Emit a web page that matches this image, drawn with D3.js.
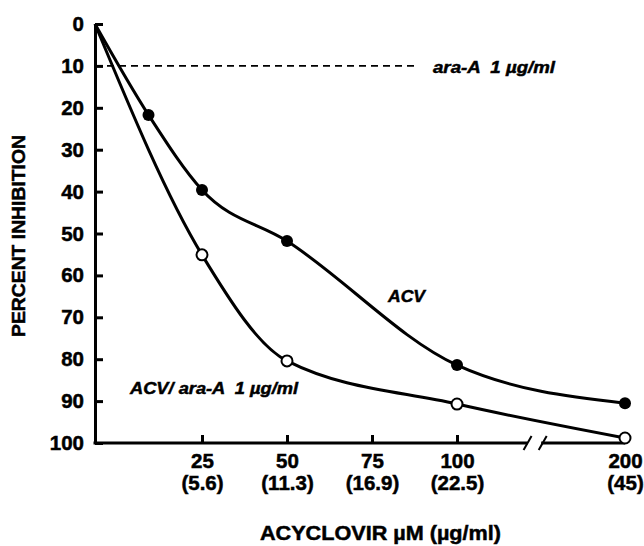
<!DOCTYPE html>
<html>
<head>
<meta charset="utf-8">
<script src="https://cdn.jsdelivr.net/npm/d3@7"></script>
<style>
  body { margin: 0; background: #fff; }
  text { font-family: "Liberation Sans", Arial, sans-serif; font-weight: bold; fill: #000;
         stroke: #000; stroke-width: 0.5px; }
  .lbl { font-style: italic; font-size: 17px; white-space: pre; }
</style>
</head>
<body>
<div id="chart"></div>
<script>
// Chart size
var width  = 644;
var height = 546;

// Data (concentration in uM, percent inhibition)
var acvConc    = [0, 12.5, 25, 50, 100, 200];
var acvInhib   = [0, 21.7, 39.6, 51.8, 81.4, 90.5];
var comboConc  = [0, 25, 50, 100, 200];
var comboInhib = [0, 55.1, 80.4, 90.7, 98.8];

// ara-A alone reference level
var araInhib = 10;
var araSpan  = [0, 88];

var yTicks   = [0, 10, 20, 30, 40, 50, 60, 70, 80, 90, 100];
var xTicks   = [25, 50, 75, 100, 200];
var xTicksMg = ["(5.6)", "(11.3)", "(16.9)", "(22.5)", "(45)"];
var axisBreak = [142, 151];

// Scales: x axis has a break between 100 and 200
var x = d3.scaleLinear()
    .domain([0, 25, 100, 200])
    .range([95, 202, 457, 625]);

var y = d3.scaleLinear()
    .domain([0, 100])
    .range([24, 443]);

var svg = d3.select("#chart").append("svg")
    .attr("width", width)
    .attr("height", height);

// Y axis, ticks pointing inward
var yAxis = d3.axisLeft(y)
    .tickValues(yTicks)
    .tickSizeInner(-8)
    .tickSizeOuter(0)
    .tickPadding(11);

var gy = svg.append("g")
    .attr("transform", "translate(" + x(0) + ",0)")
    .call(yAxis);
gy.select(".domain").attr("stroke-width", 3).attr("stroke", "#000");
gy.selectAll(".tick line").attr("stroke-width", 3).attr("stroke", "#000");
gy.selectAll(".tick text").attr("font-size", 20.5).attr("font-family", null);

// X axis, two line labels
var xAxis = d3.axisBottom(x)
    .tickValues(xTicks)
    .tickSizeInner(-8)
    .tickSizeOuter(0)
    .tickPadding(10)
    .tickFormat(d => d);

var gx = svg.append("g")
    .attr("transform", "translate(0," + y(100) + ")")
    .call(xAxis);
gx.select(".domain").remove();
gx.selectAll(".tick line").attr("stroke-width", 3).attr("stroke", "#000");
gx.selectAll(".tick text")
    .attr("font-size", 20.5)
    .attr("font-family", null)
    .each(function(d, i) {
        d3.select(this).append("tspan")
            .attr("x", 0)
            .attr("dy", "1.1em")
            .text(xTicksMg[i]);
    });

// Broken axis line
var segs = [[0, axisBreak[0]], [axisBreak[1], 200]];
gx.selectAll("line.seg")
    .data(segs)
    .enter()
    .append("line")
    .attr("class", "seg")
    .attr("x1", d => x(d[0]) - 1.5)
    .attr("x2", d => x(d[1]))
    .attr("y1", 0)
    .attr("y2", 0)
    .attr("stroke", "#000")
    .attr("stroke-width", 3);

gx.selectAll("line.slash")
    .data(axisBreak)
    .enter()
    .append("line")
    .attr("class", "slash")
    .attr("x1", d => x(d) - 4)
    .attr("x2", d => x(d) + 4)
    .attr("y1", 7)
    .attr("y2", -7)
    .attr("stroke", "#000")
    .attr("stroke-width", 2);

// Axis titles
svg.append("text")
    .attr("transform", "translate(25," + 236 + ")rotate(-90)")
    .attr("text-anchor", "middle")
    .attr("font-size", 19)
    .attr("textLength", 202)
    .attr("lengthAdjust", "spacingAndGlyphs")
    .text("PERCENT INHIBITION");

svg.append("text")
    .attr("x", 260)
    .attr("y", 540)
    .attr("font-size", 21)
    .attr("textLength", 241)
    .attr("lengthAdjust", "spacingAndGlyphs")
    .text("ACYCLOVIR \u00B5M (\u00B5g/ml)");

// ara-A reference dashed line
svg.append("line")
    .attr("x1", x(araSpan[0]))
    .attr("x2", x(araSpan[1]))
    .attr("y1", y(araInhib))
    .attr("y2", y(araInhib))
    .attr("stroke", "#000")
    .attr("stroke-width", 1.8)
    .attr("stroke-dasharray", "7,5");

// Curves
var line = d3.line()
    .x(d => x(d[0]))
    .y(d => y(d[1]))
    .curve(d3.curveMonotoneX);

var acv   = d3.zip(acvConc, acvInhib);
var combo = d3.zip(comboConc, comboInhib);

[acv, combo].forEach(function(s) {
    svg.append("path")
        .datum(s)
        .attr("d", line)
        .attr("fill", "none")
        .attr("stroke", "#000")
        .attr("stroke-width", 3);
});

// Markers (no marker at the origin)
svg.selectAll("circle.acv")
    .data(acv.slice(1))
    .enter()
    .append("circle")
    .attr("class", "acv")
    .attr("cx", d => x(d[0]))
    .attr("cy", d => y(d[1]))
    .attr("r", 6)
    .attr("fill", "#000");

svg.selectAll("circle.combo")
    .data(combo.slice(1))
    .enter()
    .append("circle")
    .attr("class", "combo")
    .attr("cx", d => x(d[0]))
    .attr("cy", d => y(d[1]))
    .attr("r", 5.5)
    .attr("fill", "#fff")
    .attr("stroke", "#000")
    .attr("stroke-width", 2);

// In-plot labels
svg.append("text").attr("class", "lbl")
    .attr("x", 433).attr("y", 73)
    .attr("textLength", 122)
    .attr("lengthAdjust", "spacingAndGlyphs")
    .text("ara-A  1 \u00B5g/ml");

svg.append("text").attr("class", "lbl")
    .attr("x", 388).attr("y", 302)
    .attr("textLength", 37)
    .attr("lengthAdjust", "spacingAndGlyphs")
    .text("ACV");

svg.append("text").attr("class", "lbl")
    .attr("x", 130).attr("y", 394)
    .attr("textLength", 168)
    .attr("lengthAdjust", "spacingAndGlyphs")
    .text("ACV/ ara-A  1 \u00B5g/ml");
</script>
</body>
</html>
